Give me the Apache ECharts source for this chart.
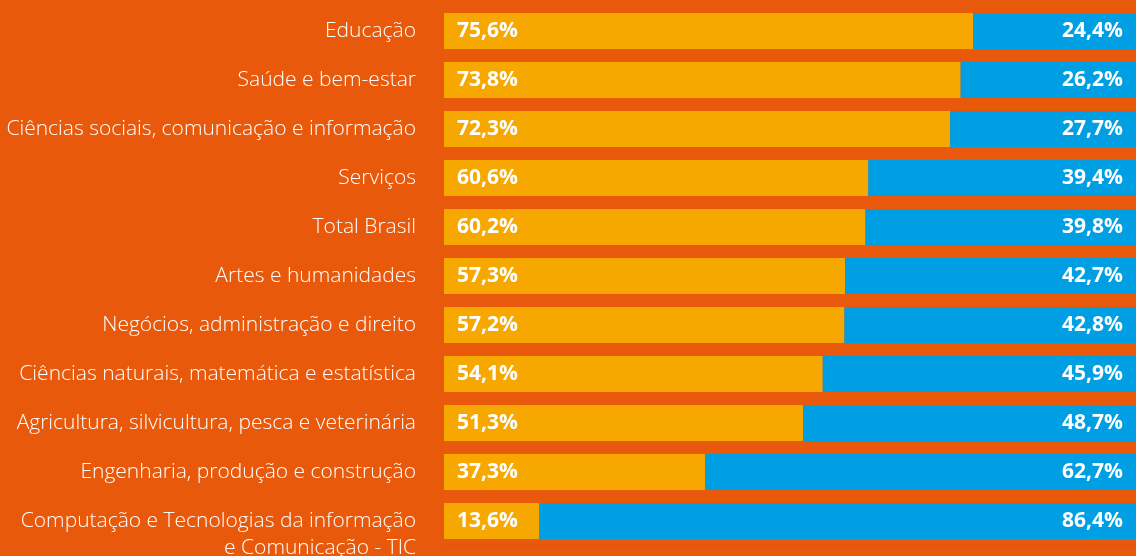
<!DOCTYPE html>
<html><head><meta charset="utf-8">
<script src="https://cdn.jsdelivr.net/npm/echarts@6/dist/echarts.min.js"></script>
<style>html,body{margin:0;padding:0;background:#E8590C;}#c{width:1136px;height:556px;}</style>
</head><body><div id="c"></div>
<script>
const categories = [
  'Educação',
  'Saúde e bem-estar',
  'Ciências sociais, comunicação e informação',
  'Serviços',
  'Total Brasil',
  'Artes e humanidades',
  'Negócios, administração e direito',
  'Ciências naturais, matemática e estatística',
  'Agricultura, silvicultura, pesca e veterinária',
  'Engenharia, produção e construção',
  'Computação e Tecnologias da informação\ne Comunicação - TIC'
];
const womenShare = [75.6, 73.8, 72.3, 60.6, 60.2, 57.3, 57.2, 54.1, 51.3, 37.3, 13.6];
const menShare = [24.4, 26.2, 27.7, 39.4, 39.8, 42.7, 42.8, 45.9, 48.7, 62.7, 86.4];

const fmt = v => v.toFixed(1).replace('.', ',') + '%';
const chart = echarts.init(document.getElementById('c'));
chart.setOption({
  backgroundColor: '#E8590C',
  animation: false,
  grid: { left: 444, right: 0, top: 6.5, bottom: 10.5, containLabel: false, outerBoundsMode: 'none' },
  xAxis: {
    type: 'value', min: 0, max: 98.857,
    axisLine: { show: true, onZero: false, lineStyle: { color: '#9b6a55', width: 1 } },
    axisTick: { show: false }, axisLabel: { show: false }, splitLine: { show: false }
  },
  yAxis: {
    type: 'category', inverse: true,
    data: categories.map(c => c.indexOf('\n') >= 0 ? ' \n' + c : c),
    axisTick: { show: false },
    axisLine: { show: false },
    axisLabel: {
      interval: 0, hideOverlap: false,
      color: '#ffffff', fontFamily: 'Open Sans', fontWeight: 300, fontSize: 21,
      margin: 28, lineHeight: 27, padding: [0, 0, 9, 0]
    }
  },
  series: [
    {
      type: 'bar', stack: 'a', barWidth: 36, data: womenShare, clip: false,
      itemStyle: { color: '#F7A800' },
      label: { show: true, position: 'insideLeft', distance: 13, color: '#fff', fontFamily: 'Open Sans', fontWeight: 'bold', fontSize: 21, formatter: p => fmt(p.value) }
    },
    {
      type: 'bar', stack: 'a', barWidth: 36, data: menShare, clip: false,
      itemStyle: { color: '#009FE3' },
      label: { show: true, position: 'insideRight', distance: 21, color: '#fff', fontFamily: 'Open Sans', fontWeight: 'bold', fontSize: 21, formatter: p => fmt(p.value) }
    }
  ]
});
</script></body></html>
